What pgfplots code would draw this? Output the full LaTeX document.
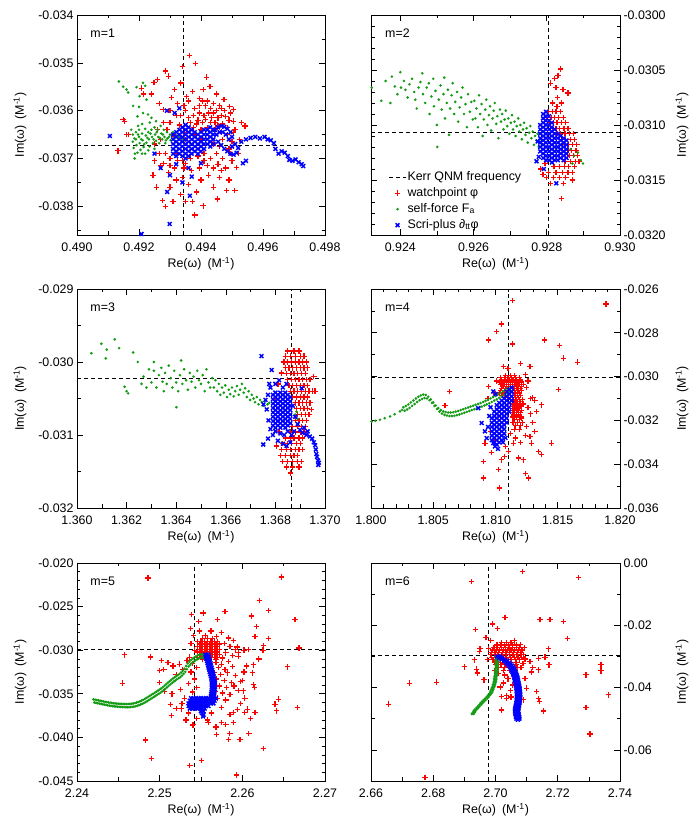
\documentclass[border=0pt]{standalone}
\usepackage{fontspec}
\setmainfont{Liberation Sans}
\usepackage{pgfplots}
\pgfplotsset{compat=1.18}

\definecolor{wpred}{RGB}{255,0,0}
\definecolor{sfgreen}{RGB}{20,155,20}
\definecolor{spblue}{RGB}{0,0,255}
\newcommand{\lbl}{\fontsize{12.4}{14.5}\selectfont}

% plot marks: each one is a single self-contained PDF operator sequence,
% drawn in its own graphics scope at the mark position
\makeatletter
\pgfdeclareplotmark{wpplus}{\pgfscope\pgflowlevelsynccm
  \pgfsys@invoke{1 0 0 RG 1.25 w [] 0 d 0 J -2.7 0 m 2.7 0 l 0 -2.7 m 0 2.7 l S}\endpgfscope}
\pgfdeclareplotmark{sfdot}{\pgfscope\pgflowlevelsynccm
  \pgfsys@invoke{0.078 0.608 0.078 rg 1.45 0 m 1.45 0.8 0.8 1.45 0 1.45 c -0.8 1.45 -1.45 0.8 -1.45 0 c -1.45 -0.8 -0.8 -1.45 0 -1.45 c 0.8 -1.45 1.45 -0.8 1.45 0 c f}\endpgfscope}
\pgfdeclareplotmark{spcross}{\pgfscope\pgflowlevelsynccm
  \pgfsys@invoke{0 0 1 RG 1.45 w [] 0 d 0 J -1.9 -1.9 m 1.9 1.9 l -1.9 1.9 m 1.9 -1.9 l S}\endpgfscope}
\makeatother

\pgfplotsset{
  qnm/.style={
    scale only axis, anchor=north west,
    scaled ticks=false, tick align=inside,
    major tick length=6pt, minor tick length=3.5pt,
    every tick/.style={black, line width=0.6pt},
    axis line style={line width=0.8pt},
    /pgf/number format/assume math mode=true,
    tick label style={font=\lbl},
    every x tick label/.append style={yshift=-4.5pt},
    xlabel={Re(ω)\enspace(M\textsuperscript{-1})},
    ylabel={Im(ω)\enspace(M\textsuperscript{-1})},
    every axis x label/.style={at={(rel axis cs:0.5,0)}, yshift=-29pt, anchor=center, font=\lbl},
  },
  leftcol/.style={qnm, width=248pt,
    every axis y label/.style={at={(rel axis cs:0,0.5)}, xshift=-57pt, anchor=center, rotate=90, font=\lbl}},
  rightcol/.style={qnm, width=249pt, yticklabel pos=right, ytick pos=both,
    every axis y label/.style={at={(rel axis cs:1,0.5)}, xshift=62pt, anchor=center, rotate=90, font=\lbl}},
  xprec/.style={xticklabel style={/pgf/number format/.cd, fixed, fixed zerofill, precision=#1}},
  yprec/.style={yticklabel style={/pgf/number format/.cd, fixed, fixed zerofill, precision=#1}},
  kerr/.style={black, mark=none, dash pattern=on 4pt off 3pt, line width=0.8pt},
  wp/.style={only marks, color=wpred, mark=wpplus},
  sf/.style={only marks, color=sfgreen, mark=sfdot},
  sp/.style={only marks, color=spblue, mark=spcross},
}

\begin{document}
\begin{tikzpicture}
\useasboundingbox (0,0) rectangle (700pt,826pt);

% ---------------- m = 1 ----------------
\begin{axis}[leftcol, at={(77pt,811pt)}, height=220pt,
  xmin=0.490, xmax=0.498, ymin=-0.0386, ymax=-0.034, xprec=3, yprec=3,
  xtick={0.490,0.492,0.494,0.496,0.498}, minor xtick={0.491,0.493,0.495,0.497},
  ytick={-0.038,-0.037,-0.036,-0.035,-0.034}, minor ytick={-0.0385,-0.0375,-0.0365,-0.0355,-0.0345}]
\addplot[kerr] coordinates {(0.49342,-0.0386) (0.49342,-0.034)};
\addplot[kerr] coordinates {(0.490,-0.03673) (0.498,-0.03673)};
\addplot[wp] coordinates {
(0.49362,-0.03485) (0.49340,-0.03508) (0.49383,-0.03502) (0.49286,-0.03517) (0.49296,-0.03528) (0.49248,-0.03541) (0.49260,-0.03535) (0.49208,-0.03553)
(0.49215,-0.03565) (0.49335,-0.03542) (0.49315,-0.03556) (0.49353,-0.03570) (0.49418,-0.03530) (0.49407,-0.03556) (0.49429,-0.03550) (0.49395,-0.03575)
(0.49372,-0.03560) (0.49305,-0.03573) (0.49278,-0.03598) (0.49265,-0.03585) (0.49240,-0.03565) (0.49154,-0.03622) (0.49159,-0.03650) (0.49132,-0.03684)
(0.49474,-0.03577) (0.49460,-0.03590) (0.49493,-0.03591) (0.49504,-0.03598) (0.49480,-0.03612) (0.49450,-0.03565) (0.49440,-0.03605) (0.49415,-0.03590)
(0.49380,-0.03595) (0.49350,-0.03600) (0.49320,-0.03610) (0.49300,-0.03625) (0.49330,-0.03630) (0.49360,-0.03615) (0.49390,-0.03620) (0.49410,-0.03610)
(0.49430,-0.03625) (0.49455,-0.03615) (0.49470,-0.03628) (0.49490,-0.03620) (0.49510,-0.03640) (0.49525,-0.03660) (0.49542,-0.03632) (0.49500,-0.03665)
(0.49485,-0.03650) (0.49465,-0.03645) (0.49445,-0.03640) (0.49420,-0.03635) (0.49400,-0.03640) (0.49375,-0.03635) (0.49345,-0.03645) (0.49310,-0.03650)
(0.49290,-0.03640) (0.49270,-0.03660) (0.49285,-0.03690) (0.49300,-0.03700) (0.49320,-0.03690) (0.49340,-0.03705) (0.49365,-0.03700) (0.49390,-0.03695)
(0.49410,-0.03690) (0.49430,-0.03700) (0.49450,-0.03690) (0.49470,-0.03700) (0.49495,-0.03690) (0.49515,-0.03719) (0.49480,-0.03720) (0.49455,-0.03712)
(0.49420,-0.03715) (0.49395,-0.03720) (0.49370,-0.03725) (0.49345,-0.03720) (0.49315,-0.03720) (0.49295,-0.03730) (0.49270,-0.03715) (0.49250,-0.03705)
(0.49245,-0.03735) (0.49256,-0.03760) (0.49276,-0.03788) (0.49285,-0.03800) (0.49300,-0.03760) (0.49320,-0.03745) (0.49340,-0.03740) (0.49360,-0.03755)
(0.49380,-0.03818) (0.49385,-0.03770) (0.49407,-0.03799) (0.49400,-0.03745) (0.49425,-0.03735) (0.49440,-0.03760) (0.49453,-0.03785) (0.49460,-0.03740)
(0.49482,-0.03767) (0.49509,-0.03767) (0.49490,-0.03745) (0.49335,-0.03775) (0.49350,-0.03790) (0.49310,-0.03790) (0.49372,-0.03790)
(0.49365,-0.03625) (0.49375,-0.03610) (0.49385,-0.03628) (0.49395,-0.03605) (0.49405,-0.03625) (0.49415,-0.03618) (0.49425,-0.03605) (0.49435,-0.03615)
(0.49445,-0.03625) (0.49455,-0.03632) (0.49465,-0.03610) (0.49475,-0.03600) (0.49485,-0.03635) (0.49495,-0.03605) (0.49470,-0.03660) (0.49460,-0.03675)
(0.49440,-0.03670) (0.49490,-0.03680) (0.49505,-0.03622) (0.49350,-0.03660) (0.49380,-0.03650) (0.49400,-0.03660)
(0.49420,-0.03580) (0.49440,-0.03585) (0.49465,-0.03595) (0.49430,-0.03595) (0.49450,-0.03600) (0.49395,-0.03590) (0.49405,-0.03580) (0.49360,-0.03580)
(0.49345,-0.03590) (0.49325,-0.03585) (0.49335,-0.03610) (0.49300,-0.03600) (0.49280,-0.03625) (0.49260,-0.03640) (0.49250,-0.03670) (0.49265,-0.03690)
(0.49280,-0.03710) (0.49300,-0.03715) (0.49325,-0.03705) (0.49350,-0.03710) (0.49410,-0.03705) (0.49440,-0.03720) (0.49465,-0.03725) (0.49500,-0.03705)
(0.49520,-0.03690) (0.49505,-0.03645) (0.49530,-0.03625) (0.49149,-0.03618) (0.49165,-0.03650)
};
\addplot[sf] coordinates {
(0.49135,-0.03539) (0.49149,-0.03550) (0.49160,-0.03556) (0.49165,-0.03562) (0.49192,-0.03551) (0.49213,-0.03542) (0.49220,-0.03548) (0.49202,-0.03570)
(0.49224,-0.03577) (0.49200,-0.03592) (0.49213,-0.03605) (0.49229,-0.03608) (0.49181,-0.03590) (0.49240,-0.03615) (0.49195,-0.03612) (0.49255,-0.03622)
(0.49180,-0.03650) (0.49180,-0.03665) (0.49183,-0.03678) (0.49190,-0.03645) (0.49190,-0.03660) (0.49192,-0.03672) (0.49195,-0.03688) (0.49200,-0.03640)
(0.49200,-0.03655) (0.49202,-0.03668) (0.49205,-0.03682) (0.49210,-0.03648) (0.49212,-0.03662) (0.49215,-0.03676) (0.49220,-0.03638) (0.49222,-0.03652)
(0.49224,-0.03667) (0.49220,-0.03690) (0.49230,-0.03645) (0.49232,-0.03660) (0.49234,-0.03675) (0.49240,-0.03640) (0.49242,-0.03655) (0.49245,-0.03668)
(0.49250,-0.03635) (0.49252,-0.03650) (0.49255,-0.03663) (0.49250,-0.03680) (0.49260,-0.03640) (0.49262,-0.03655) (0.49265,-0.03668) (0.49270,-0.03632)
(0.49272,-0.03648) (0.49275,-0.03660) (0.49280,-0.03640) (0.49282,-0.03655) (0.49285,-0.03668) (0.49290,-0.03645) (0.49292,-0.03658) (0.49300,-0.03650)
(0.49302,-0.03662) (0.49310,-0.03645) (0.49312,-0.03658) (0.49320,-0.03652) (0.49330,-0.03655) (0.49340,-0.03660) (0.49350,-0.03662)
(0.49186,-0.03700) (0.49175,-0.03640) (0.49210,-0.03628) (0.49235,-0.03625)
(0.49185,-0.03658) (0.49197,-0.03650) (0.49207,-0.03660) (0.49217,-0.03670) (0.49227,-0.03657) (0.49237,-0.03648) (0.49247,-0.03660) (0.49257,-0.03645)
(0.49267,-0.03657) (0.49277,-0.03650) (0.49287,-0.03662) (0.49297,-0.03655) (0.49187,-0.03690) (0.49210,-0.03690) (0.49230,-0.03683) (0.49197,-0.03632)
};
\addplot[sp] coordinates {
(0.49310,-0.03650) (0.49310,-0.03660) (0.49310,-0.03670) (0.49310,-0.03680) (0.49310,-0.03690)
(0.49320,-0.03645) (0.49320,-0.03655) (0.49320,-0.03665) (0.49320,-0.03675) (0.49320,-0.03685) (0.49320,-0.03695)
(0.49330,-0.03640) (0.49330,-0.03650) (0.49330,-0.03660) (0.49330,-0.03670) (0.49330,-0.03680) (0.49330,-0.03690)
(0.49340,-0.03635) (0.49340,-0.03645) (0.49340,-0.03655) (0.49340,-0.03665) (0.49340,-0.03675) (0.49340,-0.03685) (0.49340,-0.03695)
(0.49350,-0.03630) (0.49350,-0.03640) (0.49350,-0.03650) (0.49350,-0.03660) (0.49350,-0.03670) (0.49350,-0.03680) (0.49350,-0.03690) (0.49350,-0.03700)
(0.49360,-0.03635) (0.49360,-0.03645) (0.49360,-0.03655) (0.49360,-0.03665) (0.49360,-0.03675) (0.49360,-0.03685) (0.49360,-0.03695)
(0.49370,-0.03640) (0.49370,-0.03650) (0.49370,-0.03660) (0.49370,-0.03670) (0.49370,-0.03680) (0.49370,-0.03690)
(0.49380,-0.03645) (0.49380,-0.03655) (0.49380,-0.03665) (0.49380,-0.03675) (0.49380,-0.03685)
(0.49390,-0.03650) (0.49390,-0.03660) (0.49390,-0.03670) (0.49390,-0.03680) (0.49390,-0.03690)
(0.49400,-0.03645) (0.49400,-0.03655) (0.49400,-0.03665) (0.49400,-0.03675) (0.49400,-0.03685)
(0.49410,-0.03640) (0.49410,-0.03650) (0.49410,-0.03660) (0.49410,-0.03670) (0.49410,-0.03680)
(0.49420,-0.03640) (0.49420,-0.03650) (0.49420,-0.03660) (0.49420,-0.03670)
(0.49430,-0.03635) (0.49430,-0.03645) (0.49430,-0.03655) (0.49430,-0.03665) (0.49430,-0.03675)
(0.49440,-0.03640) (0.49440,-0.03650) (0.49440,-0.03660) (0.49440,-0.03670)
(0.49445,-0.03640) (0.49455,-0.03635) (0.49465,-0.03632) (0.49475,-0.03634) (0.49485,-0.03638) (0.49495,-0.03645) (0.49500,-0.03655) (0.49450,-0.03650)
(0.49460,-0.03645) (0.49470,-0.03645) (0.49480,-0.03650) (0.49490,-0.03660) (0.49455,-0.03665) (0.49465,-0.03672) (0.49475,-0.03680) (0.49485,-0.03685)
(0.49495,-0.03690) (0.49505,-0.03692) (0.49515,-0.03688) (0.49520,-0.03678) (0.49510,-0.03670) (0.49500,-0.03675)
(0.49530,-0.03665) (0.49545,-0.03660) (0.49560,-0.03657) (0.49575,-0.03655) (0.49590,-0.03658) (0.49605,-0.03655) (0.49615,-0.03660) (0.49625,-0.03662)
(0.49635,-0.03668) (0.49640,-0.03680) (0.49650,-0.03690) (0.49660,-0.03685) (0.49670,-0.03688) (0.49680,-0.03695) (0.49685,-0.03703) (0.49695,-0.03705)
(0.49705,-0.03702) (0.49715,-0.03708) (0.49725,-0.03712) (0.49730,-0.03716) (0.49535,-0.03710) (0.49545,-0.03705)
(0.49106,-0.03653) (0.49291,-0.03770) (0.49299,-0.03837) (0.49208,-0.03858) (0.49364,-0.03778) (0.49340,-0.03750) (0.49250,-0.03690) (0.49270,-0.03720)
(0.49290,-0.03600) (0.49315,-0.03605) (0.49330,-0.03595) (0.49360,-0.03720) (0.49320,-0.03712) (0.49400,-0.03710) (0.49370,-0.03738) (0.49300,-0.03735)
};
\node[anchor=west, font=\lbl] at (rel axis cs:0.04,0.918) {m=1};
\end{axis}

% ---------------- m = 2 ----------------
\begin{axis}[rightcol, at={(371pt,811pt)}, height=220pt,
  xmin=0.9232, xmax=0.930, ymin=-0.0320, ymax=-0.0300, xprec=3, yprec=4,
  xtick={0.924,0.926,0.928,0.930}, minor xtick={0.925,0.927,0.929},
  ytick={-0.0320,-0.0315,-0.0310,-0.0305,-0.0300},
  minor ytick={-0.0319,-0.0318,-0.0317,-0.0316,-0.0314,-0.0313,-0.0312,-0.0311,-0.0309,-0.0308,-0.0307,-0.0306,-0.0304,-0.0303,-0.0302,-0.0301},
  legend cell align=left,
  legend style={at={(0.07,0.012)}, anchor=south west, draw=none, fill=none, inner sep=0pt,
    row sep=2pt, font=\lbl, nodes={inner sep=1pt, text height=9pt, text depth=3pt}}]
\addplot[kerr] coordinates {(0.92805,-0.0320) (0.92805,-0.0300)};
\addlegendentry{Kerr QNM frequency}
\addplot[kerr, forget plot] coordinates {(0.9232,-0.03107) (0.930,-0.03107)};
\addplot[wp] coordinates {
(0.92837,-0.03049) (0.92831,-0.03055) (0.92822,-0.03058) (0.92810,-0.03062) (0.92844,-0.03068) (0.92825,-0.03066) (0.92830,-0.03075) (0.92858,-0.03071)
(0.92815,-0.03080) (0.92828,-0.03083) (0.92840,-0.03080)
(0.92805,-0.03088) (0.92815,-0.03088) (0.92825,-0.03088) (0.92838,-0.03088)
(0.92800,-0.03093) (0.92812,-0.03093) (0.92822,-0.03093) (0.92832,-0.03093) (0.92845,-0.03093)
(0.92808,-0.03098) (0.92818,-0.03098) (0.92828,-0.03098) (0.92840,-0.03098) (0.92852,-0.03098)
(0.92815,-0.03103) (0.92825,-0.03103) (0.92835,-0.03103) (0.92847,-0.03103) (0.92858,-0.03103)
(0.92828,-0.03108) (0.92838,-0.03108) (0.92850,-0.03108) (0.92862,-0.03108) (0.92872,-0.03108)
(0.92840,-0.03113) (0.92852,-0.03113) (0.92865,-0.03113) (0.92875,-0.03113)
(0.92848,-0.03118) (0.92860,-0.03118) (0.92870,-0.03118) (0.92882,-0.03118)
(0.92858,-0.03123) (0.92868,-0.03123) (0.92880,-0.03123)
(0.92862,-0.03128) (0.92872,-0.03128) (0.92884,-0.03128)
(0.92850,-0.03133) (0.92865,-0.03133) (0.92878,-0.03133) (0.92888,-0.03133)
(0.92820,-0.03138) (0.92835,-0.03138) (0.92848,-0.03138) (0.92860,-0.03138) (0.92875,-0.03138)
(0.92805,-0.03143) (0.92825,-0.03143) (0.92842,-0.03143) (0.92858,-0.03143) (0.92870,-0.03143)
(0.92800,-0.03148) (0.92818,-0.03148) (0.92835,-0.03148) (0.92852,-0.03148)
(0.92810,-0.03153) (0.92845,-0.03153)
(0.92783,-0.03140) (0.92790,-0.03145) (0.92840,-0.03167) (0.92870,-0.03150) (0.92795,-0.03135)
};
\addlegendentry{watchpoint φ}
\addplot[sf] coordinates {
(0.92322,-0.03066) (0.92348,-0.03078) (0.92360,-0.03060) (0.92373,-0.03080) (0.92377,-0.03056) (0.92385,-0.03065) (0.92392,-0.03072) (0.92400,-0.03052)
(0.92402,-0.03066) (0.92410,-0.03060) (0.92414,-0.03068) (0.92420,-0.03075) (0.92425,-0.03063) (0.92432,-0.03058) (0.92438,-0.03070) (0.92441,-0.03077)
(0.92445,-0.03085) (0.92450,-0.03066)
(0.92455,-0.03061) (0.92460,-0.03053) (0.92462,-0.03072) (0.92468,-0.03080) (0.92472,-0.03066) (0.92478,-0.03062) (0.92480,-0.03090) (0.92485,-0.03074)
(0.92490,-0.03058) (0.92492,-0.03083) (0.92496,-0.03069) (0.92500,-0.03100) (0.92501,-0.03120) (0.92505,-0.03077) (0.92510,-0.03064) (0.92513,-0.03086)
(0.92518,-0.03072) (0.92520,-0.03057) (0.92522,-0.03094) (0.92527,-0.03080) (0.92530,-0.03068) (0.92533,-0.03109) (0.92536,-0.03085) (0.92540,-0.03073)
(0.92543,-0.03062) (0.92547,-0.03090) (0.92550,-0.03079) (0.92555,-0.03070) (0.92558,-0.03097) (0.92562,-0.03084) (0.92566,-0.03075) (0.92570,-0.03066)
(0.92574,-0.03090) (0.92578,-0.03081) (0.92582,-0.03102) (0.92585,-0.03072) (0.92590,-0.03088) (0.92594,-0.03079) (0.92598,-0.03095)
(0.92602,-0.03078) (0.92605,-0.03094) (0.92608,-0.03085) (0.92612,-0.03102) (0.92615,-0.03073) (0.92618,-0.03090) (0.92622,-0.03081) (0.92625,-0.03110)
(0.92628,-0.03095) (0.92632,-0.03086) (0.92635,-0.03077) (0.92638,-0.03100) (0.92642,-0.03091) (0.92645,-0.03083) (0.92648,-0.03105) (0.92652,-0.03094)
(0.92655,-0.03087) (0.92658,-0.03080) (0.92662,-0.03099) (0.92665,-0.03092) (0.92668,-0.03112) (0.92672,-0.03086) (0.92675,-0.03097) (0.92678,-0.03090)
(0.92682,-0.03104) (0.92685,-0.03095) (0.92688,-0.03087) (0.92692,-0.03101) (0.92695,-0.03094) (0.92698,-0.03108) (0.92702,-0.03098) (0.92705,-0.03091)
(0.92708,-0.03104) (0.92712,-0.03097) (0.92715,-0.03110) (0.92718,-0.03101) (0.92722,-0.03094) (0.92725,-0.03106) (0.92728,-0.03100) (0.92732,-0.03113)
(0.92735,-0.03104) (0.92738,-0.03098) (0.92742,-0.03109) (0.92745,-0.03103) (0.92748,-0.03116) (0.92752,-0.03107) (0.92755,-0.03101) (0.92758,-0.03112)
(0.92762,-0.03106) (0.92765,-0.03118) (0.92768,-0.03110) (0.92772,-0.03114) (0.92775,-0.03108) (0.92778,-0.03120) (0.92782,-0.03113) (0.92785,-0.03117)
(0.92790,-0.03110) (0.92795,-0.03120)
(0.92826,-0.03122) (0.92835,-0.03125) (0.92845,-0.03120) (0.92855,-0.03126) (0.92865,-0.03122) (0.92875,-0.03128) (0.92885,-0.03125) (0.92893,-0.03132)
(0.92899,-0.03135) (0.92870,-0.03135) (0.92850,-0.03118)
};
\addlegendentry{self-force F\textsubscript{a}}
\addplot[sp] coordinates {
(0.92782,-0.03100) (0.92782,-0.03104) (0.92782,-0.03108) (0.92782,-0.03112) (0.92782,-0.03116) (0.92782,-0.03120) (0.92782,-0.03124)
(0.92790,-0.03090) (0.92790,-0.03094) (0.92790,-0.03098) (0.92790,-0.03102) (0.92790,-0.03106) (0.92790,-0.03110) (0.92790,-0.03114) (0.92790,-0.03118)
(0.92790,-0.03122) (0.92790,-0.03126) (0.92790,-0.03130)
(0.92798,-0.03088) (0.92798,-0.03092) (0.92798,-0.03096) (0.92798,-0.03100) (0.92798,-0.03104) (0.92798,-0.03108) (0.92798,-0.03112) (0.92798,-0.03116)
(0.92798,-0.03120) (0.92798,-0.03124) (0.92798,-0.03128) (0.92798,-0.03132)
(0.92806,-0.03092) (0.92806,-0.03096) (0.92806,-0.03100) (0.92806,-0.03104) (0.92806,-0.03108) (0.92806,-0.03112) (0.92806,-0.03116) (0.92806,-0.03120)
(0.92806,-0.03124) (0.92806,-0.03128) (0.92806,-0.03132)
(0.92814,-0.03098) (0.92814,-0.03102) (0.92814,-0.03106) (0.92814,-0.03110) (0.92814,-0.03114) (0.92814,-0.03118) (0.92814,-0.03122) (0.92814,-0.03126)
(0.92814,-0.03130) (0.92814,-0.03134)
(0.92822,-0.03104) (0.92822,-0.03108) (0.92822,-0.03112) (0.92822,-0.03116) (0.92822,-0.03120) (0.92822,-0.03124) (0.92822,-0.03128) (0.92822,-0.03132)
(0.92830,-0.03108) (0.92830,-0.03112) (0.92830,-0.03116) (0.92830,-0.03120) (0.92830,-0.03124) (0.92830,-0.03128) (0.92830,-0.03132)
(0.92838,-0.03110) (0.92838,-0.03114) (0.92838,-0.03118) (0.92838,-0.03122) (0.92838,-0.03126) (0.92838,-0.03130)
(0.92846,-0.03112) (0.92846,-0.03116) (0.92846,-0.03120) (0.92846,-0.03124) (0.92846,-0.03128) (0.92846,-0.03132)
(0.92854,-0.03114) (0.92854,-0.03118) (0.92854,-0.03122) (0.92854,-0.03126) (0.92854,-0.03130)
(0.92778,-0.03129) (0.92772,-0.03133) (0.92826,-0.03153) (0.92792,-0.03140) (0.92775,-0.03115)
};
\addlegendentry{Scri-plus ∂\textsubscript{tt}φ}
\node[anchor=west, font=\lbl] at (rel axis cs:0.043,0.918) {m=2};
\end{axis}

% ---------------- m = 3 ----------------
\begin{axis}[leftcol, at={(77pt,537pt)}, height=219pt,
  xmin=1.360, xmax=1.370, ymin=-0.032, ymax=-0.029, xprec=3, yprec=3,
  xtick={1.360,1.362,1.364,1.366,1.368,1.370}, minor xtick={1.361,1.363,1.365,1.367,1.369},
  ytick={-0.032,-0.031,-0.030,-0.029}, minor ytick={-0.0315,-0.0305,-0.0295}]
\addplot[kerr] coordinates {(1.36866,-0.032) (1.36866,-0.029)};
\addplot[kerr] coordinates {(1.360,-0.03023) (1.370,-0.03023)};
\addplot[wp] coordinates {
(1.36850,-0.02985) (1.36875,-0.02985) (1.36895,-0.02985)
(1.36840,-0.02992) (1.36860,-0.02992) (1.36880,-0.02992) (1.36900,-0.02992) (1.36915,-0.02992)
(1.36835,-0.03000) (1.36850,-0.03000) (1.36865,-0.03000) (1.36880,-0.03000) (1.36895,-0.03000) (1.36910,-0.03000) (1.36925,-0.03000)
(1.36840,-0.03008) (1.36855,-0.03008) (1.36870,-0.03008) (1.36885,-0.03008) (1.36900,-0.03008) (1.36915,-0.03008) (1.36930,-0.03008)
(1.36845,-0.03016) (1.36860,-0.03016) (1.36875,-0.03016) (1.36890,-0.03016) (1.36905,-0.03016) (1.36920,-0.03016)
(1.36850,-0.03024) (1.36865,-0.03024) (1.36880,-0.03024) (1.36895,-0.03024) (1.36910,-0.03024) (1.36925,-0.03024) (1.36940,-0.03024)
(1.36855,-0.03032) (1.36870,-0.03032) (1.36885,-0.03032) (1.36900,-0.03032) (1.36915,-0.03032) (1.36930,-0.03032)
(1.36860,-0.03040) (1.36875,-0.03040) (1.36890,-0.03040) (1.36905,-0.03040) (1.36920,-0.03040) (1.36935,-0.03040) (1.36950,-0.03040)
(1.36870,-0.03048) (1.36885,-0.03048) (1.36900,-0.03048) (1.36915,-0.03048) (1.36930,-0.03048)
(1.36880,-0.03056) (1.36895,-0.03056) (1.36910,-0.03056) (1.36925,-0.03056) (1.36940,-0.03056)
(1.36885,-0.03064) (1.36900,-0.03064) (1.36915,-0.03064) (1.36930,-0.03064)
(1.36890,-0.03072) (1.36905,-0.03072) (1.36920,-0.03072) (1.36935,-0.03072)
(1.36880,-0.03080) (1.36895,-0.03080) (1.36910,-0.03080) (1.36925,-0.03080)
(1.36870,-0.03088) (1.36890,-0.03088) (1.36905,-0.03088) (1.36920,-0.03088)
(1.36860,-0.03096) (1.36880,-0.03096) (1.36900,-0.03096) (1.36915,-0.03096)
(1.36840,-0.03104) (1.36860,-0.03104) (1.36875,-0.03104) (1.36895,-0.03104) (1.36910,-0.03104)
(1.36830,-0.03112) (1.36850,-0.03112) (1.36865,-0.03112) (1.36885,-0.03112) (1.36900,-0.03112)
(1.36825,-0.03120) (1.36845,-0.03120) (1.36860,-0.03120) (1.36880,-0.03120) (1.36895,-0.03120) (1.36910,-0.03120)
(1.36820,-0.03128) (1.36840,-0.03128) (1.36860,-0.03128) (1.36875,-0.03128) (1.36890,-0.03128)
(1.36830,-0.03136) (1.36850,-0.03136) (1.36870,-0.03136) (1.36890,-0.03136) (1.36905,-0.03136)
(1.36845,-0.03144) (1.36870,-0.03144) (1.36895,-0.03144) (1.36860,-0.03152)
(1.36800,-0.03050) (1.36810,-0.03030) (1.36825,-0.03015) (1.36960,-0.03040) (1.36955,-0.03020) (1.36945,-0.03065) (1.36815,-0.03095) (1.36805,-0.03115)
};
\addplot[sf] coordinates {
(1.36058,-0.02988) (1.36098,-0.02975) (1.36116,-0.02995) (1.36120,-0.02983) (1.36152,-0.02969) (1.36170,-0.02981) (1.36192,-0.03034) (1.36206,-0.03043)
(1.36200,-0.03040) (1.36226,-0.02987) (1.36245,-0.03000) (1.36260,-0.03030) (1.36268,-0.03020) (1.36280,-0.03035) (1.36290,-0.03010) (1.36300,-0.03028)
(1.36310,-0.03000) (1.36320,-0.03035) (1.36330,-0.03018) (1.36340,-0.03008) (1.36345,-0.03027) (1.36350,-0.03040) (1.36310,-0.03012)
(1.36355,-0.03015) (1.36362,-0.03030) (1.36370,-0.03005) (1.36378,-0.03022) (1.36385,-0.03035) (1.36392,-0.03012) (1.36400,-0.03028) (1.36401,-0.03062)
(1.36408,-0.03040) (1.36415,-0.03018) (1.36420,-0.02998) (1.36425,-0.03030) (1.36432,-0.03010) (1.36440,-0.03025) (1.36447,-0.03038) (1.36455,-0.03015)
(1.36462,-0.03027) (1.36470,-0.03020) (1.36477,-0.03035) (1.36485,-0.03012) (1.36492,-0.03025) (1.36500,-0.03030) (1.36507,-0.03018) (1.36515,-0.03040)
(1.36522,-0.03010) (1.36530,-0.03028) (1.36537,-0.03035) (1.36545,-0.03022)
(1.36552,-0.03035) (1.36558,-0.03025) (1.36565,-0.03040) (1.36572,-0.03030) (1.36578,-0.03045) (1.36585,-0.03035) (1.36592,-0.03042) (1.36598,-0.03032)
(1.36605,-0.03048) (1.36612,-0.03038) (1.36618,-0.03044) (1.36625,-0.03035) (1.36632,-0.03047) (1.36638,-0.03040) (1.36645,-0.03033) (1.36652,-0.03045)
(1.36658,-0.03038) (1.36665,-0.03030) (1.36672,-0.03042) (1.36678,-0.03036) (1.36685,-0.03048) (1.36692,-0.03040) (1.36698,-0.03052) (1.36705,-0.03045)
(1.36712,-0.03050) (1.36718,-0.03055) (1.36725,-0.03048) (1.36732,-0.03058) (1.36738,-0.03052) (1.36745,-0.03055) (1.36752,-0.03060) (1.36760,-0.03053)
(1.36768,-0.03058) (1.36775,-0.03056) (1.36880,-0.03072) (1.36890,-0.03078) (1.36885,-0.03068)
};
\addplot[sp] coordinates {
(1.36790,-0.03045) (1.36790,-0.03051) (1.36790,-0.03057) (1.36790,-0.03063) (1.36790,-0.03069) (1.36790,-0.03075) (1.36790,-0.03081) (1.36790,-0.03087)
(1.36800,-0.03042) (1.36800,-0.03048) (1.36800,-0.03054) (1.36800,-0.03060) (1.36800,-0.03066) (1.36800,-0.03072) (1.36800,-0.03078) (1.36800,-0.03084) (1.36800,-0.03090)
(1.36810,-0.03045) (1.36810,-0.03051) (1.36810,-0.03057) (1.36810,-0.03063) (1.36810,-0.03069) (1.36810,-0.03075) (1.36810,-0.03081) (1.36810,-0.03087)
(1.36820,-0.03042) (1.36820,-0.03048) (1.36820,-0.03054) (1.36820,-0.03060) (1.36820,-0.03066) (1.36820,-0.03072) (1.36820,-0.03078) (1.36820,-0.03084) (1.36820,-0.03090)
(1.36830,-0.03045) (1.36830,-0.03051) (1.36830,-0.03057) (1.36830,-0.03063) (1.36830,-0.03069) (1.36830,-0.03075) (1.36830,-0.03081) (1.36830,-0.03087)
(1.36840,-0.03042) (1.36840,-0.03048) (1.36840,-0.03054) (1.36840,-0.03060) (1.36840,-0.03066) (1.36840,-0.03072) (1.36840,-0.03078) (1.36840,-0.03084) (1.36840,-0.03090)
(1.36850,-0.03045) (1.36850,-0.03051) (1.36850,-0.03057) (1.36850,-0.03063) (1.36850,-0.03069) (1.36850,-0.03075) (1.36850,-0.03081) (1.36850,-0.03087)
(1.36860,-0.03048) (1.36860,-0.03054) (1.36860,-0.03060) (1.36860,-0.03066) (1.36860,-0.03072) (1.36860,-0.03078) (1.36860,-0.03084)
(1.36744,-0.02992) (1.36785,-0.03011) (1.36775,-0.03030) (1.36770,-0.03045) (1.36760,-0.03052) (1.36752,-0.03058) (1.36765,-0.03065) (1.36780,-0.03035)
(1.36800,-0.03030) (1.36815,-0.03025) (1.36830,-0.03035) (1.36845,-0.03030) (1.36870,-0.03060) (1.36880,-0.03075) (1.36875,-0.03095)
(1.36865,-0.03100) (1.36850,-0.03095) (1.36835,-0.03100) (1.36820,-0.03098) (1.36800,-0.03095) (1.36790,-0.03100) (1.36780,-0.03092) (1.36772,-0.03080)
(1.36751,-0.03113) (1.36770,-0.03105) (1.36810,-0.03108) (1.36830,-0.03112) (1.36845,-0.03115) (1.36860,-0.03110)
(1.36899,-0.03093) (1.36910,-0.03097) (1.36925,-0.03100) (1.36939,-0.03102) (1.36948,-0.03105) (1.36955,-0.03110) (1.36960,-0.03114) (1.36963,-0.03120)
(1.36965,-0.03126) (1.36968,-0.03130) (1.36972,-0.03135) (1.36973,-0.03141) (1.36975,-0.03138) (1.36915,-0.03090) (1.36930,-0.03095) (1.36890,-0.03085)
(1.36906,-0.03036)
};
\node[anchor=west, font=\lbl] at (rel axis cs:0.04,0.918) {m=3};
\end{axis}

% ---------------- m = 4 ----------------
\begin{axis}[rightcol, at={(371pt,537pt)}, height=219pt,
  xmin=1.800, xmax=1.820, ymin=-0.036, ymax=-0.026, xprec=3, yprec=3,
  xtick={1.800,1.805,1.810,1.815,1.820},
  minor xtick={1.801,1.802,1.803,1.804,1.806,1.807,1.808,1.809,1.811,1.812,1.813,1.814,1.816,1.817,1.818,1.819},
  ytick={-0.036,-0.034,-0.032,-0.030,-0.028,-0.026}, minor ytick={-0.035,-0.033,-0.031,-0.029,-0.027}]
\addplot[kerr] coordinates {(1.81103,-0.036) (1.81103,-0.026)};
\addplot[kerr] coordinates {(1.800,-0.03003) (1.820,-0.03003)};
\addplot[wp] coordinates {
(1.81080,-0.02995) (1.81120,-0.02995) (1.81150,-0.02995)
(1.81040,-0.03005) (1.81070,-0.03005) (1.81100,-0.03005) (1.81130,-0.03005) (1.81160,-0.03005) (1.81190,-0.03005)
(1.81050,-0.03015) (1.81080,-0.03015) (1.81110,-0.03015) (1.81140,-0.03015) (1.81170,-0.03015) (1.81200,-0.03015)
(1.81030,-0.03025) (1.81060,-0.03025) (1.81090,-0.03025) (1.81120,-0.03025) (1.81150,-0.03025) (1.81180,-0.03025) (1.81210,-0.03025)
(1.81045,-0.03035) (1.81075,-0.03035) (1.81105,-0.03035) (1.81135,-0.03035) (1.81165,-0.03035) (1.81195,-0.03035) (1.81225,-0.03035)
(1.81060,-0.03045) (1.81090,-0.03045) (1.81120,-0.03045) (1.81150,-0.03045) (1.81180,-0.03045) (1.81210,-0.03045)
(1.81050,-0.03055) (1.81080,-0.03055) (1.81140,-0.03055) (1.81170,-0.03055) (1.81200,-0.03055)
(1.81040,-0.03065) (1.81070,-0.03065) (1.81150,-0.03065) (1.81180,-0.03065) (1.81210,-0.03065)
(1.81030,-0.03075) (1.81060,-0.03075) (1.81160,-0.03075) (1.81190,-0.03075)
(1.81050,-0.03085) (1.81080,-0.03085) (1.81150,-0.03085) (1.81175,-0.03085) (1.81200,-0.03085)
(1.81070,-0.03095) (1.81100,-0.03095) (1.81160,-0.03095) (1.81185,-0.03095)
(1.81140,-0.03105) (1.81165,-0.03105) (1.81190,-0.03105) (1.81215,-0.03105)
(1.81150,-0.03115) (1.81175,-0.03115) (1.81200,-0.03115)
(1.81140,-0.03125) (1.81165,-0.03125) (1.81190,-0.03125) (1.81220,-0.03125)
(1.81150,-0.03135) (1.81180,-0.03135) (1.81205,-0.03135)
(1.81140,-0.03145) (1.81165,-0.03145) (1.81195,-0.03145)
(1.81150,-0.03155) (1.81180,-0.03155) (1.81210,-0.03155)
(1.81140,-0.03165) (1.81170,-0.03165) (1.81200,-0.03165)
(1.81150,-0.03175) (1.81185,-0.03175)
(1.81140,-0.03185) (1.81170,-0.03185) (1.81205,-0.03185)
(1.81155,-0.03195) (1.81190,-0.03195)
(1.81140,-0.03210) (1.81175,-0.03210) (1.81215,-0.03210)
(1.81160,-0.03225) (1.81200,-0.03225) (1.81150,-0.03240) (1.81190,-0.03240)
(1.81135,-0.02653) (1.81887,-0.02668) (1.81049,-0.02760) (1.81009,-0.02795) (1.80942,-0.02833) (1.81138,-0.02851) (1.81392,-0.02833) (1.81512,-0.02857)
(1.81545,-0.02916) (1.81660,-0.02934) (1.81277,-0.02954) (1.81202,-0.02939) (1.81063,-0.02954) (1.81100,-0.02962) (1.80629,-0.03068) (1.80942,-0.03045)
(1.81504,-0.03060) (1.81370,-0.03129) (1.81300,-0.03095) (1.81316,-0.03108) (1.81260,-0.03140) (1.80915,-0.03304) (1.80969,-0.03346) (1.80902,-0.03387)
(1.80902,-0.03463) (1.81022,-0.03425) (1.81030,-0.03509) (1.81070,-0.03364) (1.81103,-0.03342) (1.81143,-0.03304) (1.81183,-0.03372) (1.81223,-0.03380)
(1.81242,-0.03443) (1.81263,-0.03463) (1.81277,-0.03273) (1.81316,-0.03250) (1.81343,-0.03342) (1.81370,-0.03357) (1.81450,-0.03304) (1.81290,-0.03304)
(1.81250,-0.03228) (1.81210,-0.03190) (1.80594,-0.03133) (1.81250,-0.03050) (1.81260,-0.03020) (1.81240,-0.02990) (1.81280,-0.03170) (1.81300,-0.03210)
(1.81240,-0.03270) (1.81200,-0.03300) (1.81160,-0.03280) (1.81120,-0.03260) (1.81080,-0.03320) (1.81050,-0.03380) (1.80990,-0.03290) (1.80960,-0.03250)
(1.81330,-0.03160) (1.81280,-0.03100) (1.81010,-0.03020) (1.81000,-0.03080) (1.80940,-0.03100)
};
\addplot[sf] coordinates {
(1.80005,-0.03205) (1.80035,-0.03202) (1.80072,-0.03197) (1.80110,-0.03190) (1.80153,-0.03182) (1.80190,-0.03172) (1.80233,-0.03159) (1.80250,-0.03152)
(1.8026,-0.03140) (1.8027,-0.03156) (1.8028,-0.03134) (1.8029,-0.03150) (1.8030,-0.03127) (1.8031,-0.03143) (1.8032,-0.03118) (1.8033,-0.03134)
(1.8034,-0.03109) (1.8035,-0.03125) (1.8036,-0.03100) (1.8037,-0.03116) (1.8038,-0.03092) (1.8039,-0.03108) (1.8040,-0.03086) (1.8041,-0.03102)
(1.8042,-0.03082) (1.8043,-0.03098) (1.8044,-0.03084) (1.8045,-0.03100) (1.8046,-0.03092) (1.8047,-0.03108) (1.8048,-0.03104) (1.8049,-0.03120)
(1.8050,-0.03118) (1.8051,-0.03134) (1.8052,-0.03132) (1.8053,-0.03148) (1.8054,-0.03144) (1.8055,-0.03160) (1.8056,-0.03153) (1.8057,-0.03169)
(1.8058,-0.03159) (1.8059,-0.03175) (1.8060,-0.03162) (1.8061,-0.03178) (1.8062,-0.03164) (1.8063,-0.03180) (1.8064,-0.03164) (1.8065,-0.03180)
(1.8066,-0.03163) (1.8067,-0.03179) (1.8068,-0.03160) (1.8069,-0.03176) (1.8070,-0.03157) (1.8071,-0.03173) (1.8072,-0.03153) (1.8073,-0.03169)
(1.8074,-0.03149) (1.8075,-0.03165) (1.8076,-0.03145) (1.8077,-0.03161) (1.8078,-0.03141) (1.8079,-0.03157) (1.8080,-0.03137) (1.8081,-0.03153)
(1.8082,-0.03133) (1.8083,-0.03149) (1.8084,-0.03129) (1.8085,-0.03145) (1.8086,-0.03125) (1.8087,-0.03141) (1.8088,-0.03121) (1.8089,-0.03137)
(1.8090,-0.03116) (1.8091,-0.03132) (1.8092,-0.03111) (1.8093,-0.03127) (1.8094,-0.03106) (1.8095,-0.03122) (1.8096,-0.03100) (1.8097,-0.03116)
(1.8098,-0.03094) (1.8099,-0.03110) (1.8100,-0.03088) (1.8101,-0.03104) (1.8102,-0.03081) (1.8103,-0.03097) (1.8104,-0.03074) (1.8105,-0.03090)
(1.8106,-0.03067) (1.8107,-0.03083) (1.8108,-0.03060) (1.8109,-0.03076) (1.8110,-0.03055) (1.8111,-0.03071) (1.8112,-0.03052) (1.8113,-0.03068)
};
\addplot[sp] coordinates {
(1.8097,-0.0319) (1.8097,-0.0321) (1.8097,-0.0323) (1.8097,-0.0325) (1.8097,-0.0327) (1.8097,-0.0329)
(1.8099,-0.0316) (1.8099,-0.0318) (1.8099,-0.0320) (1.8099,-0.0322) (1.8099,-0.0324) (1.8099,-0.0326) (1.8099,-0.0328) (1.8099,-0.0330)
(1.8101,-0.0313) (1.8101,-0.0315) (1.8101,-0.0317) (1.8101,-0.0319) (1.8101,-0.0321) (1.8101,-0.0323) (1.8101,-0.0325) (1.8101,-0.0327) (1.8101,-0.0329) (1.8101,-0.0331)
(1.8103,-0.0312) (1.8103,-0.0314) (1.8103,-0.0316) (1.8103,-0.0318) (1.8103,-0.0320) (1.8103,-0.0322) (1.8103,-0.0324) (1.8103,-0.0326) (1.8103,-0.0328) (1.8103,-0.0330)
(1.8105,-0.0311) (1.8105,-0.0313) (1.8105,-0.0315) (1.8105,-0.0317) (1.8105,-0.0319) (1.8105,-0.0321) (1.8105,-0.0323) (1.8105,-0.0325) (1.8105,-0.0327) (1.8105,-0.0329)
(1.8107,-0.0310) (1.8107,-0.0312) (1.8107,-0.0314) (1.8107,-0.0316) (1.8107,-0.0318) (1.8107,-0.0320) (1.8107,-0.0322) (1.8107,-0.0324) (1.8107,-0.0326)
(1.8109,-0.0307) (1.8109,-0.0309) (1.8109,-0.0311) (1.8109,-0.0313) (1.8109,-0.0315) (1.8109,-0.0317) (1.8109,-0.0319) (1.8109,-0.0321)
(1.8111,-0.0306) (1.8111,-0.0308) (1.8111,-0.0310) (1.8111,-0.0312) (1.8111,-0.0314) (1.8111,-0.0316)
(1.8113,-0.0305) (1.8113,-0.0307) (1.8113,-0.0309) (1.8113,-0.0311)
(1.80862,-0.03144) (1.80889,-0.03212) (1.80915,-0.03250) (1.80929,-0.03281) (1.80982,-0.03304) (1.80996,-0.03319) (1.80950,-0.03180) (1.80940,-0.03230)
(1.80982,-0.03068) (1.81000,-0.03080) (1.80960,-0.03140) (1.81020,-0.03330) (1.81060,-0.03300) (1.81080,-0.03280)
};
\node[anchor=west, font=\lbl] at (rel axis cs:0.043,0.918) {m=4};
\end{axis}

% ---------------- m = 5 ----------------
\begin{axis}[leftcol, at={(77pt,263pt)}, height=218pt,
  xmin=2.24, xmax=2.27, ymin=-0.045, ymax=-0.020, xprec=2, yprec=3,
  xtick={2.24,2.25,2.26,2.27}, minor xtick={2.245,2.255,2.265},
  ytick={-0.045,-0.040,-0.035,-0.030,-0.025,-0.020},
  minor ytick={-0.044,-0.043,-0.042,-0.041,-0.039,-0.038,-0.037,-0.036,-0.034,-0.033,-0.032,-0.031,-0.029,-0.028,-0.027,-0.026,-0.024,-0.023,-0.022,-0.021}]
\addplot[kerr] coordinates {(2.25419,-0.045) (2.25419,-0.020)};
\addplot[kerr] coordinates {(2.24,-0.02990) (2.27,-0.02990)};
\addplot[wp] coordinates {
(2.2546,-0.0290) (2.2550,-0.0290) (2.2554,-0.0290) (2.2558,-0.0290) (2.2562,-0.0290) (2.2566,-0.0290) (2.2570,-0.0290)
(2.2548,-0.0293) (2.2552,-0.0293) (2.2556,-0.0293) (2.2560,-0.0293) (2.2564,-0.0293) (2.2568,-0.0293) (2.2572,-0.0293)
(2.2546,-0.0296) (2.2550,-0.0296) (2.2554,-0.0296) (2.2558,-0.0296) (2.2562,-0.0296) (2.2566,-0.0296) (2.2570,-0.0296)
(2.2548,-0.0299) (2.2552,-0.0299) (2.2556,-0.0299) (2.2560,-0.0299) (2.2564,-0.0299) (2.2568,-0.0299) (2.2572,-0.0299)
(2.2546,-0.0302) (2.2550,-0.0302) (2.2554,-0.0302) (2.2558,-0.0302) (2.2562,-0.0302) (2.2566,-0.0302) (2.2570,-0.0302)
(2.2548,-0.0305) (2.2552,-0.0305) (2.2556,-0.0305) (2.2560,-0.0305) (2.2564,-0.0305) (2.2568,-0.0305) (2.2572,-0.0305)
(2.2546,-0.0308) (2.2550,-0.0308) (2.2554,-0.0308) (2.2558,-0.0308) (2.2562,-0.0308) (2.2566,-0.0308) (2.2570,-0.0308)
(2.2552,-0.0311) (2.2560,-0.0311) (2.2568,-0.0311) (2.2552,-0.0287) (2.2558,-0.0287) (2.2564,-0.0287)
(2.2568,-0.0314) (2.2575,-0.0316) (2.2583,-0.0313) (2.2571,-0.0320) (2.2579,-0.0322) (2.2588,-0.0319) (2.2566,-0.0326) (2.2574,-0.0328)
(2.2582,-0.0326) (2.2592,-0.0329) (2.2569,-0.0333) (2.2578,-0.0335) (2.2587,-0.0337) (2.2572,-0.0341) (2.2581,-0.0343) (2.2590,-0.0341)
(2.2567,-0.0347) (2.2576,-0.0349) (2.2585,-0.0351) (2.2595,-0.0346) (2.2570,-0.0355) (2.2580,-0.0357) (2.2598,-0.0336) (2.2602,-0.0325)
(2.2560,-0.0318) (2.2502,-0.0312) (2.2510,-0.0314) (2.2505,-0.0322) (2.2516,-0.0318) (2.2524,-0.0316) (2.2533,-0.0312) (2.2540,-0.0315)
(2.2528,-0.0322) (2.2538,-0.0325) (2.2520,-0.0328) (2.2545,-0.0320) (2.2542,-0.0333) (2.2535,-0.0338) (2.2500,-0.0337) (2.2506,-0.0347)
(2.2515,-0.0350) (2.2525,-0.0345) (2.2530,-0.0355) (2.2540,-0.0348) (2.2545,-0.0343) (2.2513,-0.0362) (2.2520,-0.0367) (2.2527,-0.0361)
(2.2535,-0.0372) (2.2545,-0.0378) (2.2514,-0.0375) (2.2526,-0.0367) (2.2532,-0.0380) (2.2540,-0.0386)
(2.25385,-0.02593) (2.25526,-0.02574) (2.25474,-0.02670) (2.25700,-0.02650) (2.25789,-0.02555) (2.2537,-0.0275) (2.2541,-0.0283) (2.2548,-0.0278)
(2.2555,-0.0283) (2.2562,-0.0278) (2.2569,-0.0284) (2.2575,-0.0280) (2.2583,-0.0286) (2.2589,-0.0289) (2.2538,-0.0292) (2.2542,-0.0300) (2.2536,-0.0308)
(2.2578,-0.0292) (2.2585,-0.0296) (2.2592,-0.0299) (2.2580,-0.0303) (2.2588,-0.0306) (2.2595,-0.0303) (2.25938,-0.02964) (2.2595,-0.03072)
(2.2602,-0.0300) (2.26072,-0.02995) (2.2576,-0.0309)
(2.2486,-0.02172) (2.26475,-0.02160) (2.26205,-0.02433) (2.26314,-0.02548) (2.26637,-0.02651) (2.26112,-0.02608) (2.26172,-0.02731) (2.26152,-0.02846)
(2.26314,-0.02865) (2.26253,-0.02949) (2.26685,-0.02976) (2.24578,-0.03053) (2.24892,-0.03079) (2.24549,-0.03378) (2.25163,-0.03186) (2.25001,-0.03232)
(2.25143,-0.03750) (2.25264,-0.03672) (2.25316,-0.03799) (2.25405,-0.03856) (2.25506,-0.04266) (2.25365,-0.04325) (2.24832,-0.04029) (2.24900,-0.04240)
(2.25930,-0.04431) (2.25587,-0.03830) (2.25688,-0.03964) (2.25748,-0.03830) (2.25849,-0.03957) (2.25890,-0.03830) (2.25830,-0.04022) (2.25971,-0.04022)
(2.26079,-0.03957) (2.25890,-0.03714) (2.26030,-0.03714) (2.26059,-0.03676) (2.26152,-0.03714) (2.26253,-0.04125) (2.26435,-0.03562) (2.26415,-0.03695)
(2.26394,-0.03619) (2.26543,-0.03191) (2.26132,-0.03168) (2.26132,-0.03397) (2.26011,-0.03466) (2.26665,-0.03657) (2.2600,-0.0335) (2.2612,-0.0326)
(2.2605,-0.0318) (2.2620,-0.0310) (2.2625,-0.0300) (2.2615,-0.0343) (2.2598,-0.0361) (2.2603,-0.0355) (2.2594,-0.0368) (2.2585,-0.0374)
(2.2575,-0.0366) (2.2563,-0.0372) (2.2558,-0.0380) (2.2568,-0.0388) (2.2580,-0.0385) (2.2610,-0.0378)
};
\addplot[sf] coordinates {
(2.2420,-0.03564) (2.2421,-0.03600) (2.2422,-0.03568) (2.2423,-0.03604) (2.2424,-0.03572) (2.2425,-0.03608) (2.2426,-0.03576) (2.2427,-0.03612)
(2.2428,-0.03580) (2.2429,-0.03616) (2.2430,-0.03584) (2.2431,-0.03620) (2.2432,-0.03588) (2.2433,-0.03624) (2.2434,-0.03592) (2.2435,-0.03628)
(2.2436,-0.03596) (2.2437,-0.03632) (2.2438,-0.03599) (2.2439,-0.03635) (2.2440,-0.03602) (2.2441,-0.03638) (2.2442,-0.03605) (2.2443,-0.03641)
(2.2444,-0.03608) (2.2445,-0.03644) (2.2446,-0.03610) (2.2447,-0.03646) (2.2448,-0.03612) (2.2449,-0.03648) (2.2450,-0.03614) (2.2451,-0.03650)
(2.2452,-0.03615) (2.2453,-0.03651) (2.2454,-0.03616) (2.2455,-0.03652) (2.2456,-0.03617) (2.2457,-0.03653) (2.2458,-0.03618) (2.2459,-0.03654)
(2.2460,-0.03618) (2.2461,-0.03654) (2.2462,-0.03617) (2.2463,-0.03653) (2.2464,-0.03616) (2.2465,-0.03652) (2.2466,-0.03614) (2.2467,-0.03650)
(2.2468,-0.03611) (2.2469,-0.03647) (2.2470,-0.03607) (2.2471,-0.03643) (2.2472,-0.03601) (2.2473,-0.03637) (2.2474,-0.03594) (2.2475,-0.03630)
(2.2476,-0.03587) (2.2477,-0.03623) (2.2478,-0.03579) (2.2479,-0.03615) (2.2480,-0.03570) (2.2481,-0.03606) (2.2482,-0.03559) (2.2483,-0.03595)
(2.2484,-0.03548) (2.2485,-0.03584) (2.2486,-0.03536) (2.2487,-0.03572) (2.2488,-0.03524) (2.2489,-0.03560) (2.2490,-0.03512) (2.2491,-0.03548)
(2.2492,-0.03500) (2.2493,-0.03536) (2.2494,-0.03488) (2.2495,-0.03524) (2.2496,-0.03476) (2.2497,-0.03512) (2.2498,-0.03464) (2.2499,-0.03500)
(2.2500,-0.03452) (2.2501,-0.03488) (2.2502,-0.03437) (2.2503,-0.03473) (2.2504,-0.03422) (2.2505,-0.03458) (2.2506,-0.03406) (2.2507,-0.03442)
(2.2508,-0.03389) (2.2509,-0.03425) (2.2510,-0.03372) (2.2511,-0.03408) (2.2512,-0.03356) (2.2513,-0.03392) (2.2514,-0.03340) (2.2515,-0.03376)
(2.2516,-0.03325) (2.2517,-0.03361) (2.2518,-0.03311) (2.2519,-0.03347) (2.2520,-0.03297) (2.2521,-0.03333) (2.2522,-0.03285) (2.2523,-0.03321)
(2.2524,-0.03273) (2.2525,-0.03309) (2.2526,-0.03256) (2.2527,-0.03292) (2.2528,-0.03234) (2.2529,-0.03270) (2.2530,-0.03212) (2.2531,-0.03248)
(2.2532,-0.03182) (2.2533,-0.03218) (2.2534,-0.03152) (2.2535,-0.03188) (2.2536,-0.03132) (2.2537,-0.03168) (2.2538,-0.03112) (2.2539,-0.03148)
(2.2540,-0.03097) (2.2541,-0.03133) (2.2542,-0.03082) (2.2543,-0.03118) (2.2544,-0.03071) (2.2545,-0.03107) (2.2546,-0.03060) (2.2547,-0.03096)
(2.2548,-0.03054) (2.2549,-0.03090) (2.2550,-0.03048) (2.2551,-0.03084) (2.2552,-0.03052) (2.2553,-0.03088) (2.2554,-0.03060) (2.2555,-0.03096)
};
\addplot[sp] coordinates {
(2.25552,-0.03050) (2.25588,-0.03050) (2.25559,-0.03075) (2.25595,-0.03075) (2.25565,-0.03100) (2.25601,-0.03100) (2.25572,-0.03125) (2.25608,-0.03125)
(2.25579,-0.03150) (2.25615,-0.03150) (2.25585,-0.03175) (2.25621,-0.03175) (2.25592,-0.03200) (2.25628,-0.03200) (2.25599,-0.03225) (2.25635,-0.03225)
(2.25605,-0.03250) (2.25641,-0.03250) (2.25612,-0.03275) (2.25648,-0.03275) (2.25619,-0.03300) (2.25655,-0.03300) (2.25625,-0.03325) (2.25661,-0.03325)
(2.25632,-0.03350) (2.25668,-0.03350) (2.25632,-0.03375) (2.25668,-0.03375) (2.25632,-0.03400) (2.25668,-0.03400) (2.25632,-0.03425) (2.25668,-0.03425)
(2.25632,-0.03450) (2.25668,-0.03450) (2.25627,-0.03475) (2.25663,-0.03475) (2.25622,-0.03500) (2.25658,-0.03500) (2.25622,-0.03525) (2.25658,-0.03525)
(2.25380,-0.03550) (2.25410,-0.03550) (2.25440,-0.03550) (2.25470,-0.03550) (2.25500,-0.03550) (2.25530,-0.03550) (2.25560,-0.03550) (2.25590,-0.03550)
(2.25620,-0.03550) (2.25650,-0.03550) (2.25680,-0.03550)
(2.25365,-0.03580) (2.25395,-0.03580) (2.25425,-0.03580) (2.25455,-0.03580) (2.25485,-0.03580) (2.25515,-0.03580) (2.25545,-0.03580) (2.25575,-0.03580)
(2.25605,-0.03580) (2.25635,-0.03580) (2.25665,-0.03580)
(2.25350,-0.03610) (2.25380,-0.03610) (2.25410,-0.03610) (2.25440,-0.03610) (2.25470,-0.03610) (2.25500,-0.03610) (2.25530,-0.03610) (2.25560,-0.03610)
(2.25590,-0.03610) (2.25620,-0.03610) (2.25650,-0.03610)
(2.25350,-0.03640) (2.25380,-0.03640) (2.25410,-0.03640) (2.25440,-0.03640) (2.25470,-0.03640) (2.25500,-0.03640) (2.25530,-0.03640) (2.25560,-0.03640)
(2.25590,-0.03640)
(2.25365,-0.03670) (2.25395,-0.03670) (2.25425,-0.03670) (2.25455,-0.03670) (2.25485,-0.03670) (2.25515,-0.03670) (2.25545,-0.03670)
(2.25500,-0.03700) (2.25530,-0.03700) (2.25510,-0.03720) (2.25530,-0.03740) (2.25525,-0.03760)
};
\node[anchor=west, font=\lbl] at (rel axis cs:0.04,0.918) {m=5};
\end{axis}

% ---------------- m = 6 ----------------
\begin{axis}[rightcol, at={(371pt,263pt)}, height=218pt,
  xmin=2.66, xmax=2.74, ymin=-0.07, ymax=0, xprec=2, yprec=2,
  xtick={2.66,2.68,2.70,2.72,2.74}, minor xtick={2.67,2.69,2.71,2.73},
  ytick={-0.06,-0.04,-0.02,0}, minor ytick={-0.07,-0.05,-0.03,-0.01}]
\addplot[kerr] coordinates {(2.69769,-0.07) (2.69769,0)};
\addplot[kerr] coordinates {(2.66,-0.02964) (2.74,-0.02964)};
\addplot[wp] coordinates {
(2.7020,-0.0255) (2.7035,-0.0255) (2.7050,-0.0255)
(2.7005,-0.0263) (2.7018,-0.0263) (2.7030,-0.0263) (2.7042,-0.0263) (2.7055,-0.0263) (2.7068,-0.0263)
(2.6995,-0.0271) (2.7007,-0.0271) (2.7019,-0.0271) (2.7031,-0.0271) (2.7043,-0.0271) (2.7055,-0.0271) (2.7067,-0.0271) (2.7078,-0.0271)
(2.6990,-0.0279) (2.7002,-0.0279) (2.7014,-0.0279) (2.7026,-0.0279) (2.7038,-0.0279) (2.7050,-0.0279) (2.7062,-0.0279) (2.7074,-0.0279) (2.7085,-0.0279)
(2.6986,-0.0287) (2.6998,-0.0287) (2.7010,-0.0287) (2.7022,-0.0287) (2.7034,-0.0287) (2.7046,-0.0287) (2.7058,-0.0287) (2.7070,-0.0287) (2.7082,-0.0287)
(2.6984,-0.0295) (2.6996,-0.0295) (2.7008,-0.0295) (2.7020,-0.0295) (2.7032,-0.0295) (2.7044,-0.0295) (2.7056,-0.0295) (2.7068,-0.0295) (2.7080,-0.0295) (2.7090,-0.0295)
(2.6988,-0.0303) (2.7000,-0.0303) (2.7012,-0.0303) (2.7024,-0.0303) (2.7036,-0.0303) (2.7048,-0.0303) (2.7060,-0.0303) (2.7072,-0.0303) (2.7084,-0.0303)
(2.6992,-0.0311) (2.7004,-0.0311) (2.7016,-0.0311) (2.7028,-0.0311) (2.7040,-0.0311) (2.7052,-0.0311) (2.7064,-0.0311) (2.7076,-0.0311)
(2.6996,-0.0319) (2.7010,-0.0319) (2.7024,-0.0319) (2.7038,-0.0319) (2.7052,-0.0319) (2.7066,-0.0319)
(2.7002,-0.0327) (2.7018,-0.0327) (2.7034,-0.0327) (2.7050,-0.0327) (2.7066,-0.0327)
(2.7010,-0.0335) (2.7030,-0.0335) (2.7050,-0.0335) (2.7070,-0.0335) (2.7025,-0.0345) (2.7045,-0.0345) (2.7065,-0.0345)
(2.6985,-0.0248) (2.7060,-0.0250) (2.7080,-0.0262) (2.7092,-0.0272) (2.6978,-0.0275) (2.6975,-0.0310) (2.7095,-0.0308) (2.7088,-0.0322)
(2.7082,-0.0335) (2.7060,-0.0350) (2.7030,-0.0360) (2.7010,-0.0355) (2.6998,-0.0345) (2.7040,-0.0372) (2.7025,-0.0385) (2.7055,-0.0392)
(2.7015,-0.0398) (2.7048,-0.0410) (2.7036,-0.0425)
(2.70873,-0.00268) (2.72662,-0.00461) (2.69234,-0.00590) (2.70305,-0.01747) (2.71430,-0.01822) (2.71751,-0.01822) (2.72180,-0.01876) (2.72308,-0.02433)
(2.69909,-0.01962) (2.70059,-0.02112) (2.69352,-0.02144) (2.69695,-0.02391) (2.69502,-0.02755) (2.69480,-0.02830) (2.71698,-0.02755) (2.71591,-0.03023)
(2.71376,-0.03055) (2.71109,-0.03162) (2.71720,-0.03270) (2.71150,-0.03500) (2.69320,-0.03109) (2.69000,-0.03334) (2.69395,-0.03409) (2.69420,-0.03530)
(2.69630,-0.03752) (2.71376,-0.03430) (2.71200,-0.03360) (2.71002,-0.04020) (2.71323,-0.04127) (2.71376,-0.04342) (2.71410,-0.04449) (2.71537,-0.04749)
(2.70894,-0.04395) (2.70500,-0.04300) (2.70198,-0.04717) (2.70359,-0.04342) (2.70200,-0.04280) (2.70950,-0.03700) (2.67232,-0.03859) (2.66557,-0.04534)
(2.68110,-0.03827) (2.67735,-0.06882) (2.72908,-0.03591) (2.72908,-0.04631) (2.73390,-0.03270) (2.73390,-0.03462) (2.73626,-0.04234) (2.73037,-0.05489)
};
\addplot[sf] coordinates {
(2.7001,-0.0300) (2.7007,-0.0300) (2.7001,-0.0305) (2.7007,-0.0305) (2.7001,-0.0310) (2.7007,-0.0310) (2.7001,-0.0315) (2.7007,-0.0315)
(2.7001,-0.0320) (2.7007,-0.0320) (2.7001,-0.0325) (2.7007,-0.0325) (2.7001,-0.0330) (2.7007,-0.0330) (2.7001,-0.0335) (2.7007,-0.0335)
(2.7000,-0.0340) (2.7006,-0.0340) (2.7000,-0.0345) (2.7006,-0.0345) (2.6999,-0.0350) (2.7005,-0.0350) (2.6999,-0.0355) (2.7005,-0.0355)
(2.6998,-0.0360) (2.7004,-0.0360) (2.6997,-0.0365) (2.7003,-0.0365) (2.6996,-0.0370) (2.7002,-0.0370) (2.6996,-0.0375) (2.7002,-0.0375)
(2.6995,-0.0380) (2.7001,-0.0380) (2.6994,-0.0385) (2.7000,-0.0385) (2.6992,-0.0390) (2.6998,-0.0390) (2.6991,-0.0395) (2.6997,-0.0395)
(2.6989,-0.0400) (2.6995,-0.0400) (2.6987,-0.0405) (2.6993,-0.0405) (2.6985,-0.0410) (2.6991,-0.0410) (2.6983,-0.0415) (2.6989,-0.0415)
(2.6980,-0.0420) (2.6986,-0.0420) (2.6976,-0.0425) (2.6982,-0.0425) (2.6972,-0.0430) (2.6978,-0.0430) (2.6967,-0.0435) (2.6973,-0.0435)
(2.6962,-0.0440) (2.6968,-0.0440) (2.6957,-0.0445) (2.6963,-0.0445) (2.6952,-0.0450) (2.6958,-0.0450) (2.6948,-0.0455) (2.6954,-0.0455)
(2.6943,-0.0460) (2.6949,-0.0460) (2.6939,-0.0465) (2.6945,-0.0465) (2.6934,-0.0470) (2.6940,-0.0470) (2.6930,-0.0475) (2.6936,-0.0475)
(2.6927,-0.0480) (2.6933,-0.0480) (2.6924,-0.0485) (2.6930,-0.0485)
};
\addplot[sp] coordinates {
(2.7005,-0.0300) (2.7015,-0.0300) (2.7011,-0.0305) (2.7021,-0.0305) (2.7019,-0.0310) (2.7029,-0.0310) (2.7028,-0.0315) (2.7038,-0.0315)
(2.7034,-0.0320) (2.7044,-0.0320) (2.7039,-0.0325) (2.7049,-0.0325) (2.7043,-0.0330) (2.7053,-0.0330) (2.7047,-0.0335) (2.7057,-0.0335)
(2.7050,-0.0340) (2.7060,-0.0340) (2.7052,-0.0345) (2.7062,-0.0345) (2.7054,-0.0350) (2.7064,-0.0350) (2.7056,-0.0355) (2.7066,-0.0355)
(2.7058,-0.0360) (2.7068,-0.0360) (2.7060,-0.0365) (2.7070,-0.0365) (2.7061,-0.0370) (2.7071,-0.0370) (2.7062,-0.0375) (2.7072,-0.0375)
(2.7063,-0.0380) (2.7073,-0.0380) (2.7064,-0.0385) (2.7074,-0.0385) (2.7065,-0.0390) (2.7075,-0.0390) (2.7066,-0.0395) (2.7076,-0.0395)
(2.7067,-0.0400) (2.7077,-0.0400) (2.7068,-0.0405) (2.7078,-0.0405) (2.7068,-0.0410) (2.7078,-0.0410) (2.7069,-0.0415) (2.7079,-0.0415)
(2.7069,-0.0420) (2.7079,-0.0420) (2.7069,-0.0425) (2.7079,-0.0425) (2.7069,-0.0430) (2.7079,-0.0430) (2.7069,-0.0435) (2.7079,-0.0435)
(2.7068,-0.0440) (2.7078,-0.0440) (2.7068,-0.0445) (2.7078,-0.0445) (2.7067,-0.0450) (2.7077,-0.0450) (2.7066,-0.0455) (2.7076,-0.0455)
(2.7065,-0.0460) (2.7075,-0.0460) (2.7064,-0.0465) (2.7074,-0.0465) (2.7063,-0.0470) (2.7073,-0.0470) (2.7063,-0.0475) (2.7073,-0.0475)
(2.7063,-0.0480) (2.7073,-0.0480) (2.7064,-0.0485) (2.7074,-0.0485) (2.7065,-0.0490) (2.7075,-0.0490) (2.7066,-0.0495) (2.7076,-0.0495)
(2.7067,-0.0500) (2.7077,-0.0500) (2.7072,-0.0503)
};
\node[anchor=west, font=\lbl] at (rel axis cs:0.043,0.918) {m=6};
\end{axis}
\end{tikzpicture}
\end{document}
